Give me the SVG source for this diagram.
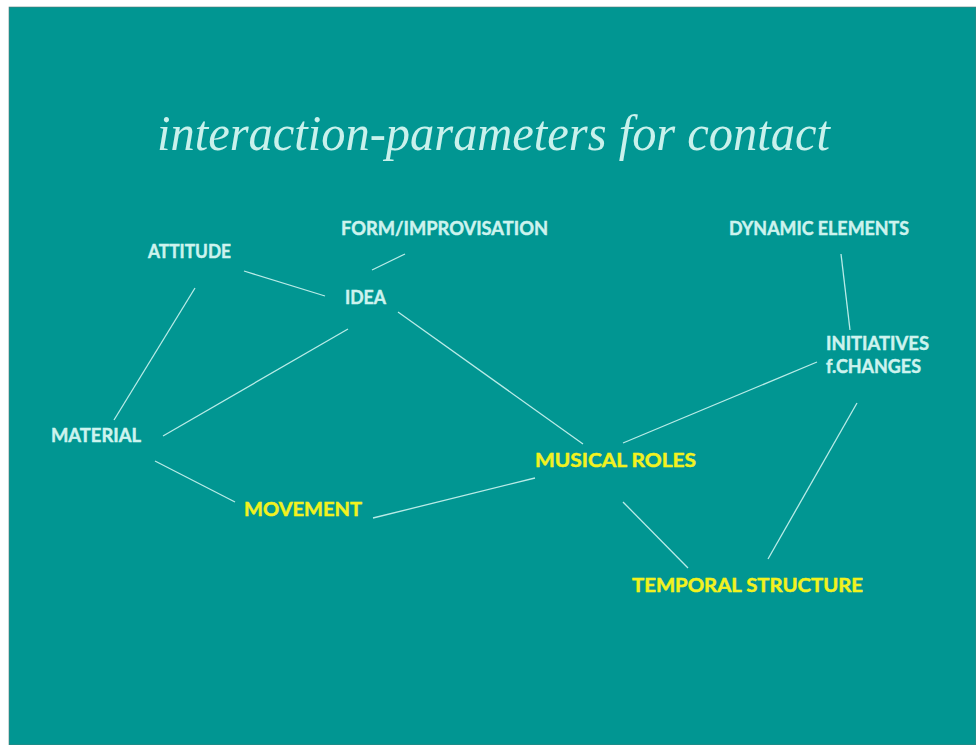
<svg xmlns="http://www.w3.org/2000/svg" width="976" height="745" viewBox="0 0 976 745">
<style>
.bg{fill:#019692}
.title{font-family:"Liberation Serif","Times New Roman",serif;font-style:italic;font-size:50px;fill:#c9f1ec}
.lbl{font-family:Lato,"Open Sans",sans-serif;font-weight:700;font-size:18.5px;fill:#cdf3ee;stroke:#cdf3ee;stroke-width:0.45}
.hl{fill:#f2f21e;stroke:#f2f21e}
.conn line{stroke:#b9ebe7;stroke-width:1.3}
</style>
<rect x="0" y="0" width="976" height="745" fill="#ffffff"/>
<rect class="bg" x="9" y="7" width="967" height="738" stroke="#5a7a78" stroke-width="0.6"/>
<text class="title" x="157" y="150" textLength="673" lengthAdjust="spacingAndGlyphs">interaction-parameters for contact</text>
<g id="connectors" class="conn">
<line x1="244" y1="271" x2="325" y2="296"/>
<line x1="372" y1="270" x2="405" y2="254"/>
<line x1="195" y1="288" x2="114" y2="420"/>
<line x1="348" y1="329" x2="163" y2="436"/>
<line x1="398" y1="312" x2="583" y2="444"/>
<line x1="155" y1="461" x2="235" y2="502"/>
<line x1="373" y1="518" x2="535" y2="478"/>
<line x1="623" y1="443" x2="817" y2="362"/>
<line x1="623" y1="502" x2="688" y2="568"/>
<line x1="841" y1="254" x2="850" y2="330"/>
<line x1="857" y1="403" x2="768" y2="559"/>
</g>
<g id="attitude"><text class="lbl" x="148" y="258" textLength="83" lengthAdjust="spacingAndGlyphs">ATTITUDE</text></g>
<g id="form"><text class="lbl" x="341" y="235" textLength="207" lengthAdjust="spacingAndGlyphs">FORM/IMPROVISATION</text></g>
<g id="idea"><text class="lbl" x="345" y="304" textLength="41" lengthAdjust="spacingAndGlyphs">IDEA</text></g>
<g id="dynamic"><text class="lbl" x="729" y="235" textLength="180" lengthAdjust="spacingAndGlyphs">DYNAMIC ELEMENTS</text></g>
<g id="initiatives"><text class="lbl" x="826" y="350" textLength="103" lengthAdjust="spacingAndGlyphs">INITIATIVES</text><text class="lbl" x="826" y="373" textLength="95" lengthAdjust="spacingAndGlyphs">f.CHANGES</text></g>
<g id="material"><text class="lbl" x="51" y="442" textLength="90" lengthAdjust="spacingAndGlyphs">MATERIAL</text></g>
<g id="movement"><text class="lbl hl" x="244" y="516" textLength="118" lengthAdjust="spacingAndGlyphs">MOVEMENT</text></g>
<g id="musical"><text class="lbl hl" x="535" y="467" textLength="161" lengthAdjust="spacingAndGlyphs">MUSICAL ROLES</text></g>
<g id="temporal"><text class="lbl hl" x="632" y="592" textLength="231" lengthAdjust="spacingAndGlyphs">TEMPORAL STRUCTURE</text></g>
</svg>
